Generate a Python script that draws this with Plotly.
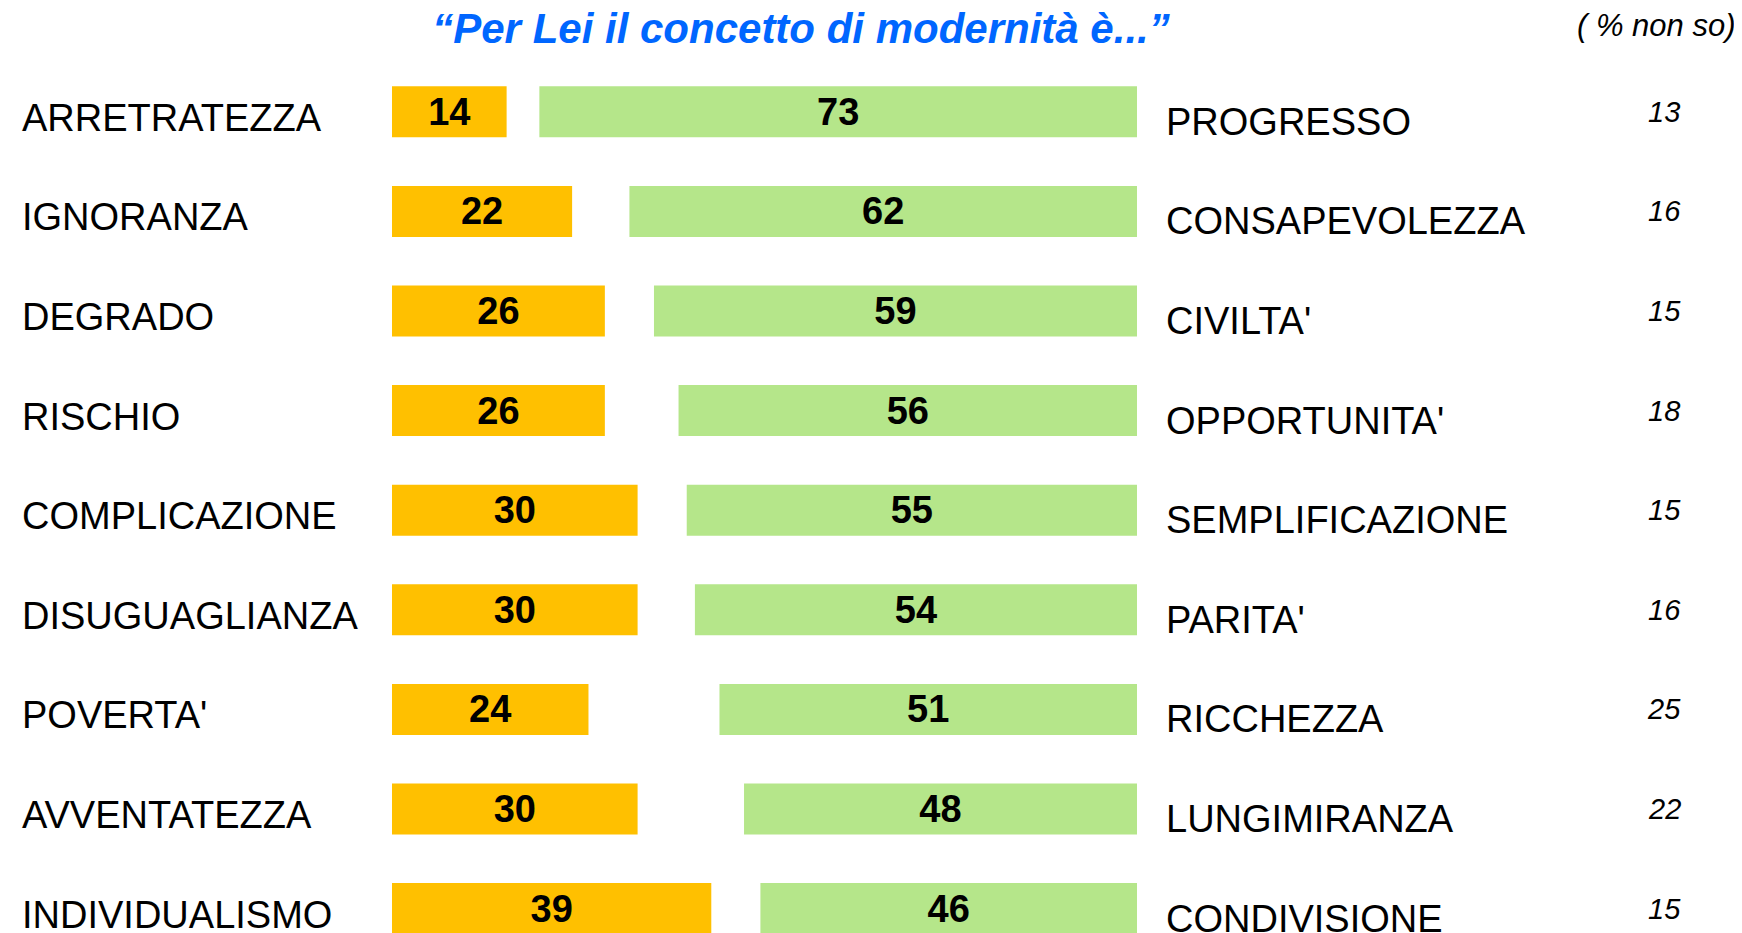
import plotly.graph_objects as go

# ---------------- data ----------------
left_labels = ["ARRETRATEZZA", "IGNORANZA", "DEGRADO", "RISCHIO", "COMPLICAZIONE",
               "DISUGUAGLIANZA", "POVERTA'", "AVVENTATEZZA", "INDIVIDUALISMO"]
left_values = [14, 22, 26, 26, 30, 30, 24, 30, 39]
right_labels = ["PROGRESSO", "CONSAPEVOLEZZA", "CIVILTA'", "OPPORTUNITA'", "SEMPLIFICAZIONE",
                "PARITA'", "RICCHEZZA", "LUNGIMIRANZA", "CONDIVISIONE"]
right_values = [73, 62, 59, 56, 55, 54, 51, 48, 46]
non_so = [13, 16, 15, 18, 15, 16, 25, 22, 15]
title_text = "“Per Lei il concetto di modernità è...”"
non_so_header = "( % non so)"

# ---------------- layout constants ----------------
PAGE_OFF = 8             # default body margin of the html page
W, H = 1742 - PAGE_OFF, 933 - PAGE_OFF
L_M, PLOT_W, T_M = 392 - PAGE_OFF, 745, 62 - PAGE_OFF
PLOT_H = H - T_M
RIGHT_EDGE = 91          # axis value where the green bars end
BAR_W = 0.512
FONT = "Liberation Sans, Arial, sans-serif"


def px_to_paper_x(page_px):
    return (page_px - PAGE_OFF - L_M) / PLOT_W


def px_to_paper_y(page_py):
    return 1 + (T_M - (page_py - PAGE_OFF)) / PLOT_H


idx = list(range(len(left_labels)))

fig = go.Figure()
fig.add_trace(go.Bar(
    y=idx, x=left_values, base=0, orientation="h", width=BAR_W,
    marker=dict(color="#FFC000", line=dict(width=0)),
    text=[f"<b>{v}</b>" for v in left_values], textposition="inside",
    insidetextanchor="middle", constraintext="none",
    textfont=dict(family=FONT, size=38, color="black"),
    hoverinfo="skip",
))
fig.add_trace(go.Bar(
    y=idx, x=right_values, base=[RIGHT_EDGE - v for v in right_values],
    orientation="h", width=BAR_W,
    marker=dict(color="#B5E68A", line=dict(width=0)),
    text=[f"<b>{v}</b>" for v in right_values], textposition="inside",
    insidetextanchor="middle", constraintext="none",
    textfont=dict(family=FONT, size=38, color="black"),
    hoverinfo="skip",
))

annotations = []
for i in idx:
    annotations.append(dict(
        text=left_labels[i], x=px_to_paper_x(20), xref="paper", xanchor="left",
        y=i, yref="y", yanchor="middle", yshift=-6, showarrow=False,
        font=dict(family=FONT, size=38, color="black")))
    annotations.append(dict(
        text=right_labels[i], x=px_to_paper_x(1164), xref="paper", xanchor="left",
        y=i, yref="y", yanchor="middle", yshift=-10, showarrow=False,
        font=dict(family=FONT, size=38, color="black")))
    annotations.append(dict(
        text=f"<i>{non_so[i]}</i>", x=px_to_paper_x(1664), xref="paper", xanchor="center",
        y=i, yref="y", yanchor="middle", yshift=0, showarrow=False,
        font=dict(family=FONT, size=29, color="black")))
annotations.append(dict(
    text=f"<i>{non_so_header}</i>", x=px_to_paper_x(1738), xref="paper", xanchor="right",
    y=px_to_paper_y(25), yref="paper", yanchor="middle", showarrow=False,
    font=dict(family=FONT, size=31, color="black")))

fig.update_layout(
    width=W, height=H,
    margin=dict(l=L_M, r=W - L_M - PLOT_W, t=T_M, b=0, pad=0),
    paper_bgcolor="white", plot_bgcolor="white",
    showlegend=False,
    barmode="overlay",
    title=dict(text=f"<b><i>{title_text}</i></b>", x=(801 - PAGE_OFF) / W, xanchor="center",
               y=1 - (28 - PAGE_OFF) / H, yanchor="middle", yref="container",
               font=dict(family=FONT, size=42, color="#0066FF")),
    xaxis=dict(range=[0, RIGHT_EDGE], visible=False, fixedrange=True),
    yaxis=dict(range=[8.245, -0.5], visible=False, fixedrange=True),
    annotations=annotations,
)

fig.write_html("out.html")
